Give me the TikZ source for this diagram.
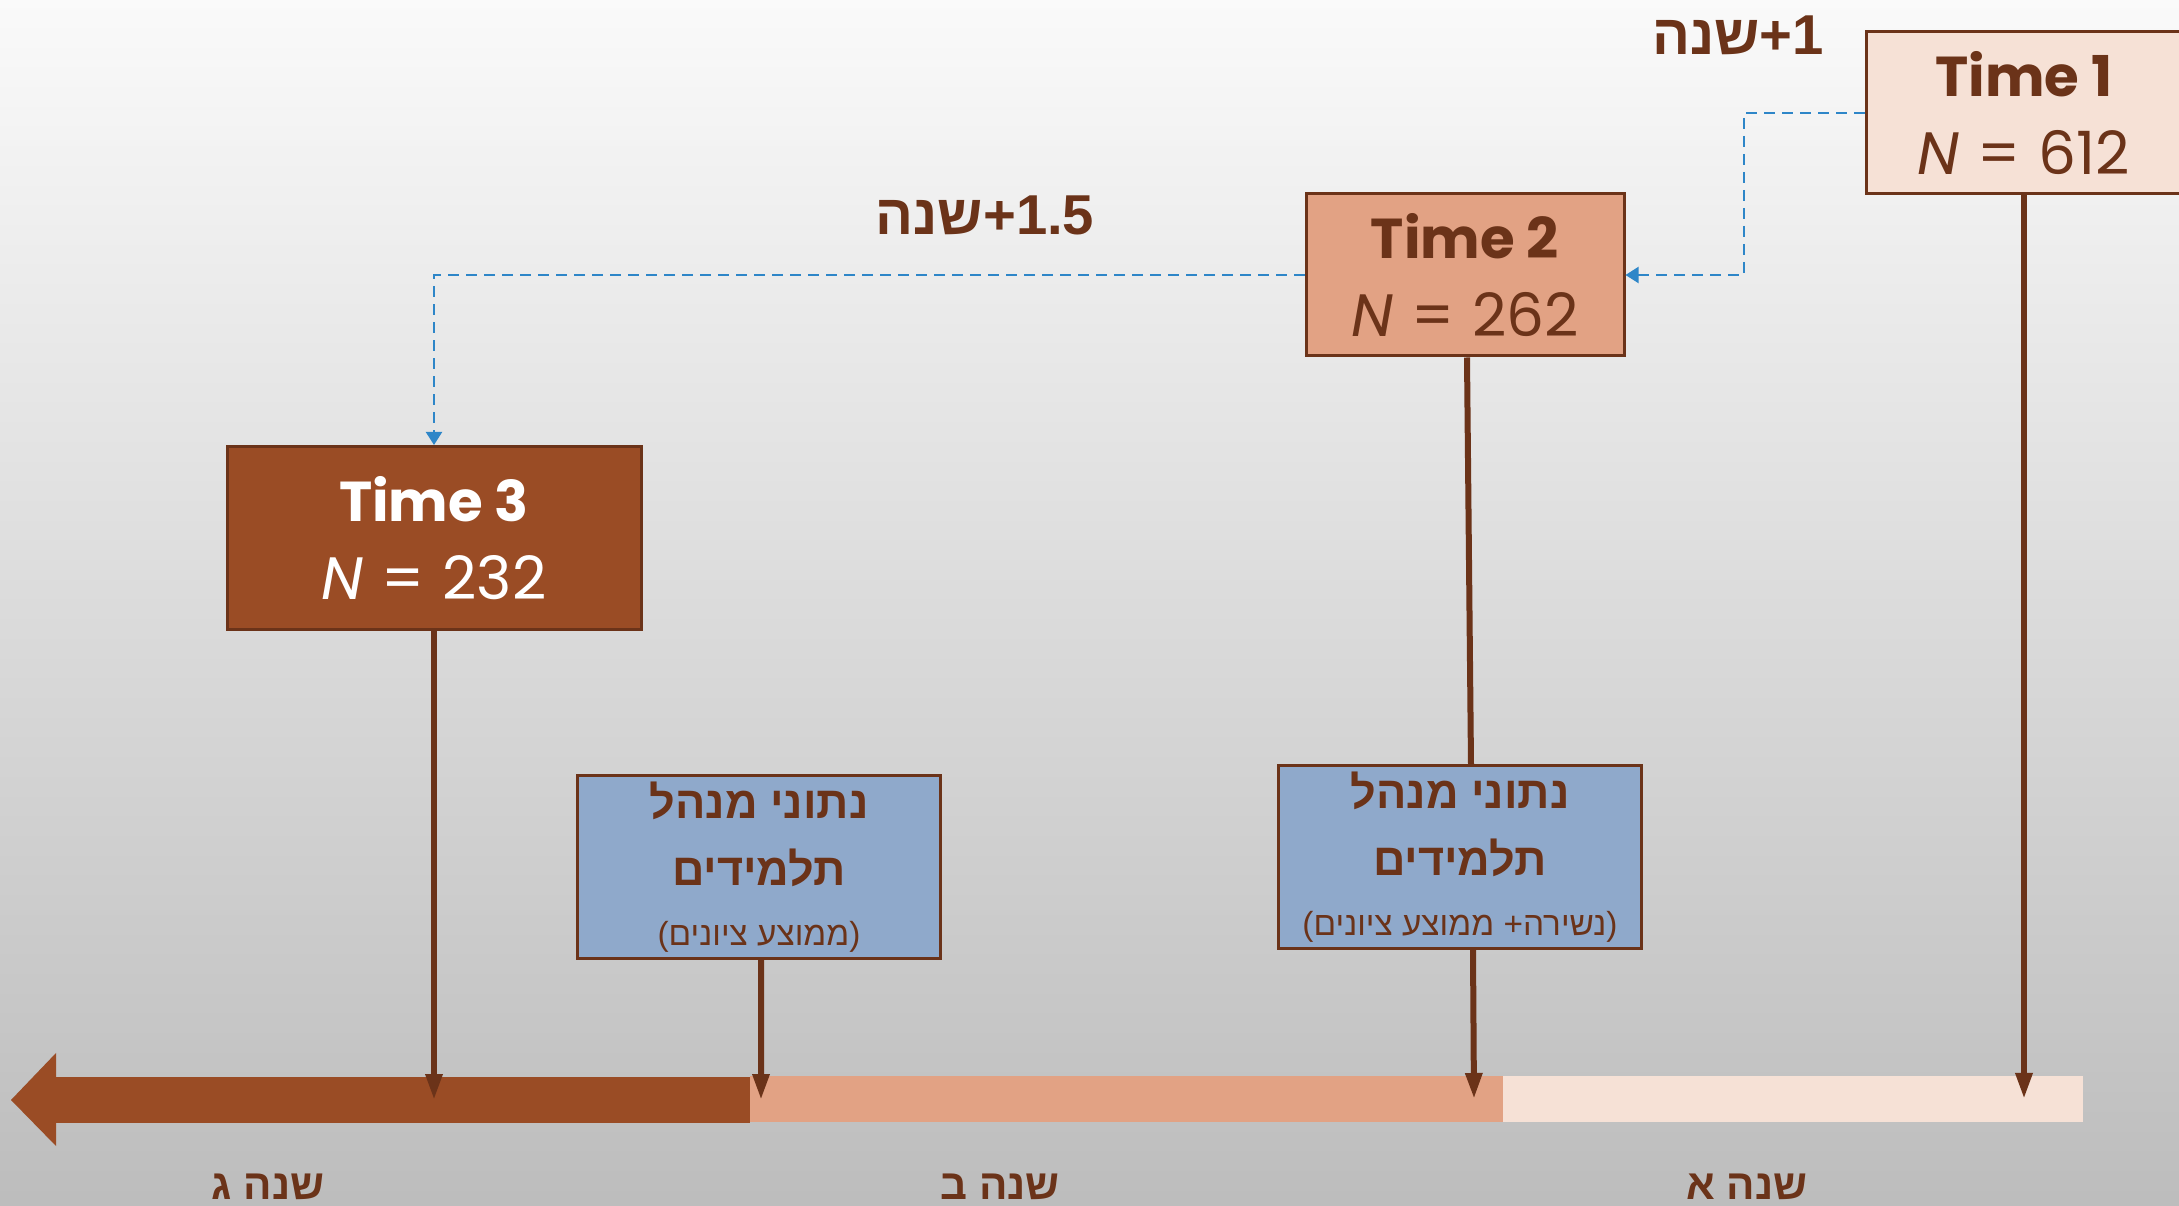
\documentclass[tikz,border=0pt]{standalone}
\usepackage{fontspec}
\setmainfont{Poppins}
\newfontfamily\hebfont[Script=Hebrew]{Liberation Sans}
\usetikzlibrary{arrows.meta}
\TeXXeTstate=1
\definecolor{brn}{HTML}{6B3319}
\definecolor{peach}{HTML}{F6E1D6}
\definecolor{salmon}{HTML}{E2A284}
\definecolor{sienna}{HTML}{9A4C25}
\definecolor{steel}{HTML}{8FA9CB}
\definecolor{linkblue}{HTML}{2E86C8}

\begin{document}
\begin{tikzpicture}[x=0.1mm, y=-0.1mm,
		time/.style = {draw=brn, line width=0.3mm, inner sep=0pt, align=center, font=\fontsize{16}{22}\selectfont},
		data/.style = {draw=brn, line width=0.3mm, fill=steel, inner sep=0pt, align=center, text=brn, minimum width=36.3mm, minimum height=18.3mm, font=\hebfont\fontsize{12.8}{19}\selectfont},
		stem/.style = {brn, line width=0.6mm, -{Triangle[length=2.6mm, width=1.6mm]}},
		link/.style = {linkblue, line width=0.2mm, dash pattern=on 1.1mm off 0.7mm, -{Triangle[length=1.3mm, width=1.6mm]}},
		gap/.style = {text=brn, font=\hebfont\bfseries\fontsize{16}{19}\selectfont},
		year/.style = {text=brn, font=\hebfont\bfseries\fontsize{12}{14}\selectfont}]
	\useasboundingbox (0,0) rectangle (2179,1206);
	\clip (0,0) rectangle (2179,1206);
	\shade[top color=white!98!black, bottom color=white!74!black] (0,0) rectangle (2179,1206);

	% time line
	\fill[sienna] (56,1077) rectangle (750,1123);
	\fill[sienna] (56,1053) -- (11,1100) -- (56,1146) -- cycle;
	\fill[salmon] (750,1076) rectangle (1503,1122);
	\fill[peach] (1503,1076) rectangle (2083,1122);
	\coordinate (a3) at (434,1100);
	\coordinate (b2) at (761,1100);
	\coordinate (b3) at (1474,1099);
	\coordinate (a1) at (2024,1099);

	% measurements
	\node[time, fill=peach, text=brn, minimum width=31.6mm, minimum height=16.2mm] (t1) at (2024,113) {\textbf{Time 1}\\{\fontsize{17}{22}\selectfont\textit{N}\hspace{0.3em}=\hspace{0.3em}612}};
	\node[time, fill=salmon, text=brn, minimum width=31.8mm, minimum height=16.2mm] (t2) at (1465,275) {\textbf{Time 2}\\{\fontsize{17}{22}\selectfont\textit{N}\hspace{0.3em}=\hspace{0.3em}262}};
	\node[time, fill=sienna, text=white, minimum width=41.4mm, minimum height=18.3mm] (t3) at (434,538) {\textbf{Time 3}\\{\fontsize{17}{22}\selectfont\textit{N}\hspace{0.3em}=\hspace{0.3em}232}};

	% school records
	\node[data] (d2) at (759,867) {\textbf{\beginR נתוני מנהל\endR}\\\textbf{\beginR תלמידים\endR}\\[-2pt]{\fontsize{9.5}{11}\selectfont\beginR(ממוצע ציונים)\endR}};
	\node[data] (d3) at (1460,857) {\textbf{\beginR נתוני מנהל\endR}\\\textbf{\beginR תלמידים\endR}\\[-2pt]{\fontsize{9.5}{11}\selectfont\beginR(נשירה+ ממוצע ציונים)\endR}};

	\draw[stem] (t1.south) -- (a1);
	\draw[brn, line width=0.6mm] ([xshift=0.2mm]t2.south) -- ([xshift=1.1mm]d3.north);
	\draw[stem] ([xshift=1.3mm]d3.south) -- (b3);
	\draw[stem] ([xshift=0.2mm]d2.south) -- (b2);
	\draw[stem] (t3.south) -- (a3);

	\draw[link] (t1.west) -- ++(-121,0) |- (t2.east);
	\draw[link] (t2.west) -| (t3.north);

	\node[gap] (g1) at (1738,35) {\beginR 1+שנה\endR};
	\node[gap] (g2) at (985,215) {\beginR 1.5+שנה\endR};

	\node[year] (y3) at (268,1187) {\beginR שנה ג\endR};
	\node[year] (y2) at (1000,1187) {\beginR שנה ב\endR};
	\node[year] (y1) at (1747,1187) {\beginR שנה א\endR};
	\node[anchor=west, font=\itshape\fontsize{10}{12}\selectfont] (pg) at (2166,1190) {6};
\end{tikzpicture}
\end{document}
